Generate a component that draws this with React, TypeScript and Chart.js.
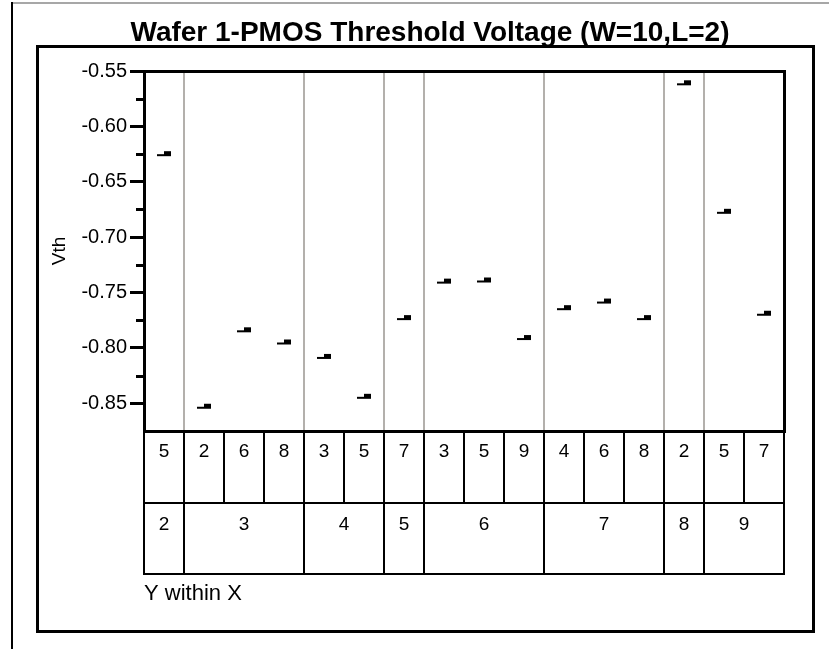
import React, { useEffect, useRef } from 'react';
import { Chart, registerables } from 'chart.js';

Chart.register(...registerables);

const TITLE = 'Wafer 1-PMOS Threshold Voltage (W=10,L=2)';
const Y_TITLE = 'Vth';
const X_FOOTER = 'Y within X';

// outer grouping (X) for each cell
const xLevels = ['2', '3', '3', '3', '4', '4', '5', '6', '6', '6', '7', '7', '7', '8', '9', '9'];
// inner grouping (Y within X) for each cell
const yLevels = ['5', '2', '6', '8', '3', '5', '7', '3', '5', '9', '4', '6', '8', '2', '5', '7'];
// Vth of each cell
const vth = [-0.626, -0.854, -0.785, -0.796, -0.809, -0.845, -0.774, -0.741, -0.74, -0.792, -0.765, -0.759, -0.774, -0.562, -0.678, -0.77];

const yMin = -0.875;
const yMax = -0.55;
const yStep = 0.025;
const yMajorStep = 0.05;

const FONT = '"Liberation Sans", Arial, Helvetica, sans-serif';
const GRID_GRAY = '#b3b0ac';
const PAD = { left: 44, top: 71, right: 45, bottom: 0 };
const PLOT_BOTTOM = 431;

type Group = { label: string; start: number; end: number };
function buildGroups(levels: string[]): Group[] {
  const out: Group[] = [];
  levels.forEach((l, i) => {
    const last = out[out.length - 1];
    if (last && last.label === l) last.end = i;
    else out.push({ label: l, start: i, end: i });
  });
  return out;
}
const groups = buildGroups(xLevels);
const groupStarts = new Set(groups.slice(1).map((g) => g.start));

function isMajor(v: number) {
  const r = v / yMajorStep;
  return Math.abs(r - Math.round(r)) < 1e-6;
}

function makeMark(): HTMLCanvasElement {
  const c = document.createElement('canvas');
  c.width = 16;
  c.height = 10;
  const g = c.getContext('2d')!;
  g.fillStyle = '#000';
  g.fillRect(1, 4, 8, 2);
  g.fillRect(8, 1, 7, 5);
  return c;
}

const jmpPlugin = {
  id: 'jmpDecor',
  beforeDraw(chart: any) {
    const ctx = chart.ctx as CanvasRenderingContext2D;
    ctx.save();
    ctx.fillStyle = '#ffffff';
    ctx.fillRect(0, 0, chart.width, chart.height);
    // page edges
    ctx.fillStyle = '#a7a7a7';
    ctx.fillRect(12, 2, chart.width - 12, 2);
    ctx.fillStyle = '#000';
    ctx.fillRect(11, 2, 2, chart.height - 2);
    ctx.restore();
  },
  afterDraw(chart: any) {
    const ctx = chart.ctx as CanvasRenderingContext2D;
    const area = chart.chartArea;
    const xs = chart.scales.x;
    const ys = chart.scales.y;
    ctx.save();

    // outer frame
    ctx.strokeStyle = '#000';
    ctx.lineWidth = 3;
    ctx.strokeRect(37.5, 46.5, 776, 585);

    // title
    ctx.fillStyle = '#000';
    ctx.font = `bold 28px ${FONT}`;
    ctx.textAlign = 'center';
    ctx.textBaseline = 'middle';
    ctx.fillText(TITLE, 430, 33);

    // minor ticks (not at the axis ends)
    ys.ticks.forEach((t: any) => {
      if (!isMajor(t.value) && t.value > yMin + 1e-9 && t.value < yMax - 1e-9) {
        const py = Math.round(ys.getPixelForValue(t.value));
        ctx.fillRect(area.left - 8, py - 1, 8, 3);
      }
    });

    // plot frame
    ctx.lineWidth = 3;
    ctx.strokeRect(Math.round(area.left) + 0.5, Math.round(area.top) + 0.5,
      Math.round(area.right - area.left), Math.round(area.bottom - area.top));

    // table
    const n = yLevels.length;
    const half = (xs.getPixelForValue(1) - xs.getPixelForValue(0)) / 2;
    const edge = (i: number) => Math.round(xs.getPixelForValue(i) - half);
    const top = Math.round(area.bottom);
    const row1 = 502;
    const row2 = 573;
    const L = Math.round(area.left);
    const R = Math.round(area.right);
    ctx.fillRect(L - 1, row1, R - L + 2, 2);
    ctx.fillRect(L - 1, row2, R - L + 2, 2);
    for (let i = 0; i <= n; i++) {
      const x = i === n ? R : edge(i);
      ctx.fillRect(x - 1, top, 2, row1 - top + 1);
    }
    groups.forEach((g) => {
      const x = edge(g.start);
      ctx.fillRect(x - 1, row1, 2, row2 - row1 + 2);
    });
    ctx.fillRect(R - 1, row1, 2, row2 - row1 + 2);

    // group labels
    ctx.font = `19px ${FONT}`;
    ctx.textAlign = 'center';
    ctx.textBaseline = 'middle';
    groups.forEach((g) => {
      const cx = (xs.getPixelForValue(g.start) + xs.getPixelForValue(g.end)) / 2;
      ctx.fillText(g.label, cx, 525);
    });

    // footer
    ctx.font = `22px ${FONT}`;
    ctx.textAlign = 'left';
    ctx.fillText(X_FOOTER, L, 594);

    ctx.restore();
  },
};

export default function App() {
  const ref = useRef<HTMLCanvasElement | null>(null);

  useEffect(() => {
    if (!ref.current) return;
    const mark = makeMark();
    const chart = new Chart(ref.current, {
      type: 'line',
      data: {
        labels: yLevels,
        datasets: [
          {
            data: vth,
            showLine: false,
            pointStyle: mark as any,
            pointRadius: 8,
            pointHoverRadius: 8,
            borderColor: '#000',
            backgroundColor: '#000',
          },
        ],
      },
      options: {
        animation: false,
        responsive: false,
        devicePixelRatio: 1,
        events: [],
        layout: { padding: PAD },
        plugins: {
          legend: { display: false },
          tooltip: { enabled: false },
          title: { display: false },
        },
        scales: {
          x: {
            type: 'category',
            offset: true,
            afterFit: (s: any) => {
              s.height = 649 - PLOT_BOTTOM;
            },
            border: { display: false },
            grid: {
              display: true,
              drawOnChartArea: true,
              drawTicks: false,
              offset: true,
              lineWidth: 2,
              color: (c: any) => (groupStarts.has(c.index) ? GRID_GRAY : 'rgba(0,0,0,0)'),
            },
            ticks: {
              autoSkip: false,
              maxRotation: 0,
              minRotation: 0,
              padding: 9,
              color: '#000',
              font: { size: 19, family: FONT },
            },
          },
          y: {
            type: 'linear',
            min: yMin,
            max: yMax,
            afterFit: (s: any) => {
              s.width = 144 - PAD.left;
            },
            border: { display: false },
            grid: {
              drawOnChartArea: false,
              drawTicks: true,
              tickLength: 14,
              tickWidth: 3,
              tickColor: (c: any) => (c.tick && isMajor(c.tick.value) ? '#000' : 'rgba(0,0,0,0)'),
            },
            ticks: {
              stepSize: yStep,
              autoSkip: false,
              padding: 3,
              color: '#000',
              font: { size: 20, family: FONT },
              callback: (v: any) => (isMajor(Number(v)) ? Number(v).toFixed(2) : ''),
            },
            title: {
              display: true,
              text: Y_TITLE,
              color: '#000',
              font: { size: 19, family: FONT },
              padding: { top: 4, bottom: 0 },
            },
          },
        },
      },
      plugins: [jmpPlugin],
    });
    return () => chart.destroy();
  }, []);

  return (
    <div style={{ position: 'absolute', left: 0, top: 0, width: 829, height: 649 }}>
      <canvas ref={ref} width={829} height={649} />
    </div>
  );
}
